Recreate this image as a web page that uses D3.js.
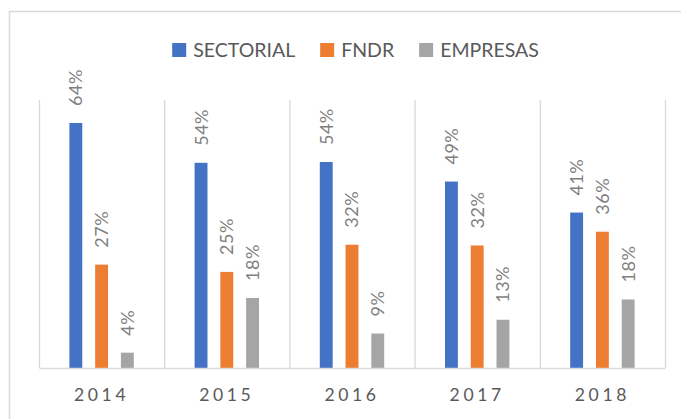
<!DOCTYPE html>
<html>
<head>
<meta charset="utf-8">
<script src="https://cdn.jsdelivr.net/npm/d3@7"></script>
<style>
  body { margin: 0; background: #fff; }
  svg { display: block; font-family: Lato, "Open Sans", sans-serif; }
</style>
</head>
<body>
<div id="chart"></div>
<script>
const years = ["2014", "2015", "2016", "2017", "2018"];
const seriesNames = ["SECTORIAL", "FNDR", "EMPRESAS"];
const sectorial = [0.64, 0.536, 0.538, 0.487, 0.406];
const fndr = [0.27, 0.251, 0.322, 0.32, 0.356];
const empresas = [0.04, 0.183, 0.09, 0.126, 0.179];
const colors = ["#4472c4", "#ed7d31", "#a5a5a5"];

const w = 681;
const h = 419;
const plotLeft = 39, plotRight = 665, plotTop = 100, plotBottom = 368;

const values = [sectorial, fndr, empresas];
const rows = years.map((y, i) => ({
  year: y,
  vals: seriesNames.map((s, j) => ({ name: s, v: values[j][i], c: colors[j] }))
}));

const svg = d3.select("#chart").append("svg")
  .attr("width", w)
  .attr("height", h);

// chart frame
svg.append("rect")
  .attr("x", 9.5).attr("y", 11.5)
  .attr("width", w + 10).attr("height", h + 10)
  .attr("fill", "none")
  .attr("stroke", "#d9d9d9")
  .attr("stroke-width", 1.5);

const x0 = d3.scaleBand()
  .domain(years)
  .range([plotLeft, plotRight])
  .padding(0);

const x1 = d3.scaleBand()
  .domain(seriesNames)
  .range([0, x0.bandwidth()])
  .paddingInner(0.5)
  .paddingOuter(1.18);

const y = d3.scaleLinear()
  .domain([0, 0.7])
  .range([plotBottom, plotTop]);

// vertical separators between categories
const seps = years.map(d => x0(d)).concat([plotRight]);
svg.append("g")
  .selectAll("line")
  .data(seps)
  .enter()
  .append("line")
  .attr("x1", d => d + 0.5).attr("x2", d => d + 0.5)
  .attr("y1", y(0.7)).attr("y2", plotBottom)
  .attr("stroke", "#d9d9d9")
  .attr("stroke-width", 1.3);

// bars
const groups = svg.append("g")
  .selectAll("g")
  .data(rows)
  .enter()
  .append("g")
  .attr("transform", d => "translate(" + x0(d.year) + ",0)");

groups.selectAll("rect")
  .data(d => d.vals)
  .enter()
  .append("rect")
  .attr("x", d => x1(d.name))
  .attr("y", d => y(d.v))
  .attr("width", x1.bandwidth())
  .attr("height", d => plotBottom - y(d.v))
  .attr("fill", d => d.c);

// rotated value labels
groups.selectAll("text")
  .data(d => d.vals)
  .enter()
  .append("text")
  .attr("transform", d => "translate(" + (x1(d.name) + x1.bandwidth() / 2) + "," + (y(d.v) - 17) + ")rotate(-90)")
  .attr("dy", "0.36em")
  .attr("text-anchor", "start")
  .attr("fill", "#7f7f7f")
  .style("font-size", "18px")
  .style("letter-spacing", "0.5px")
  .text(d => Math.round(d.v * 100) + "%");

// x axis
const xAxis = d3.axisBottom(x0).tickSize(0).tickPadding(0);
const gx = svg.append("g")
  .attr("transform", "translate(0," + plotBottom + ")")
  .call(xAxis);
gx.select(".domain").attr("stroke", "#d9d9d9").attr("stroke-width", 1.3);
gx.selectAll("text")
  .attr("y", 33)
  .attr("dy", 0)
  .attr("fill", "#595959")
  .style("font-family", "Lato, sans-serif")
  .style("font-size", "17.6px")
  .style("letter-spacing", "3.6px");

// legend
const legend = svg.append("g");
const items = legend.selectAll("g")
  .data(seriesNames)
  .enter()
  .append("g");
items.append("rect")
  .attr("width", 14).attr("height", 14)
  .attr("y", 43)
  .attr("fill", (d, i) => colors[i]);
items.append("text")
  .attr("x", 21)
  .attr("y", 57)
  .attr("fill", "#595959")
  .style("font-size", "19.5px")
  .text(d => d);
const widths = [];
items.each(function() {
  widths.push(21 + d3.select(this).select("text").node().getComputedTextLength());
});
const total = d3.sum(widths) + 25 * (widths.length - 1);
let pos = 355.5 - total / 2;
items.attr("transform", (d, i) => {
  const t = "translate(" + pos + ",0)";
  pos += widths[i] + 25;
  return t;
});
</script>
</body>
</html>
